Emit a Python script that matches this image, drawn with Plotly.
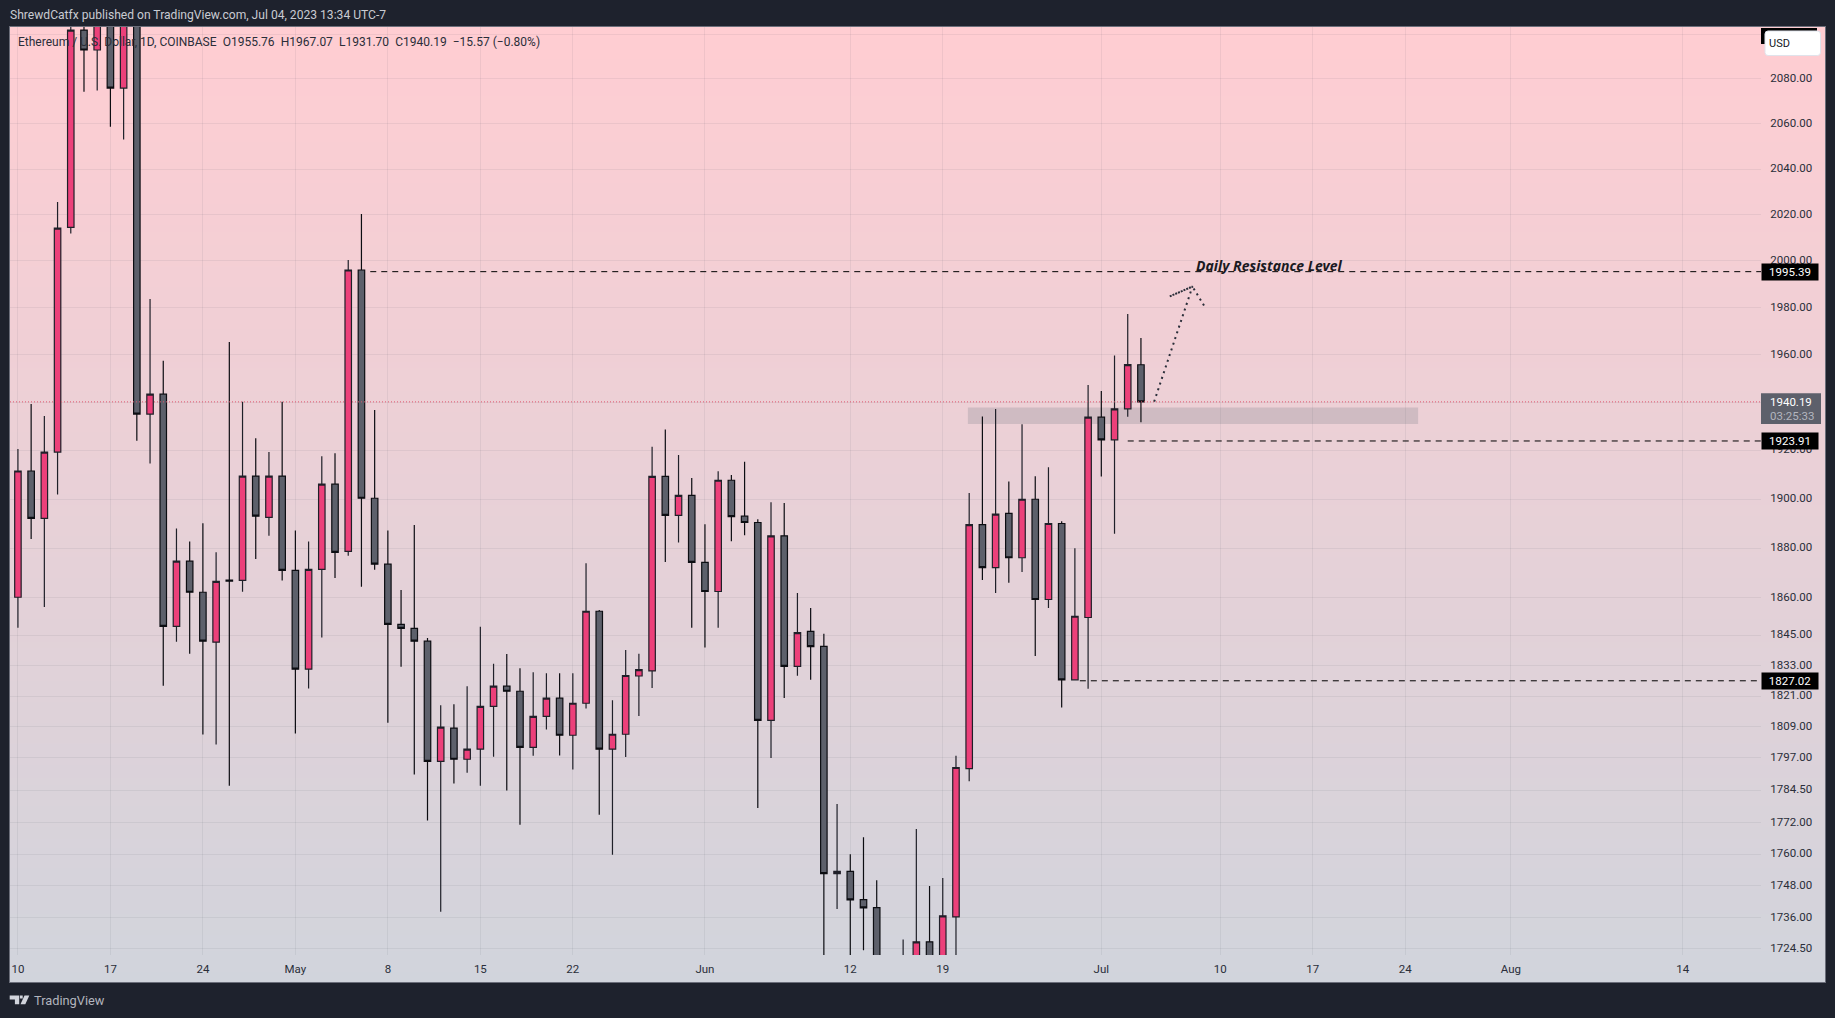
import math
import pandas as pd
import plotly.graph_objects as go

# ---------- data ----------
first_day = "2023-04-10"
opens = [
    1860.2, 1911.5, 1892.1, 1919.3, 2014.5, 2102.0, 2093.0, 2118.0, 2075.9, 2120.0,
    1935.1, 1943.4, 1848.6, 1874.7, 1862.2, 1842.3, 1867.1, 1867.0, 1909.4, 1892.5,
    1909.4,
    1871.0, 1831.6, 1871.4, 1906.1, 1878.7, 1996.1, 1900.3, 1873.5, 1849.4, 1847.8,
    1842.7, 1795.6, 1808.5, 1796.4, 1800.3, 1817.0, 1824.9, 1822.9, 1801.0, 1813.1,
    1820.2, 1805.7, 1818.2, 1854.6, 1800.3, 1806.1, 1828.9, 1830.9, 1909.3, 1893.3,
    1901.5,
    1874.2, 1862.5, 1907.7, 1893.0, 1890.4, 1811.5, 1885.0, 1832.7, 1846.6, 1840.6,
    1752.7, 1753.5, 1742.9, 1739.9, 1660.0, 1665.0, 1715.0, 1727.1, 1718.0, 1736.4,
    1792.8, 1889.5, 1872.1, 1894.1, 1876.1, 1899.9, 1859.3, 1890.0, 1827.4, 1852.1,
    1933.8, 1924.4, 1937.3, 1955.76,
]
highs = [
    1920.6, 1939.3, 1934.3, 2025.6, 2128.0, 2125.0, 2135.0, 2130.0, 2140.0, 2130.0,
    1983.7, 1957.4, 1888.0, 1882.7, 1890.1, 1878.3, 1965.4, 1940.2, 1925.0, 1919.3,
    1940.2,
    1887.2, 1882.7, 1917.6, 1918.8, 2000.4, 2020.3, 1936.8, 1887.2, 1863.1, 1889.4,
    1843.9, 1817.4, 1817.8, 1824.9, 1848.4, 1833.7, 1837.6, 1832.0, 1830.4, 1830.0,
    1830.0, 1830.0, 1873.9, 1855.1, 1819.4, 1839.2, 1837.7, 1921.5, 1928.7, 1918.1,
    1908.6,
    1889.7, 1911.4, 1909.9, 1915.3, 1891.7, 1898.7, 1898.4, 1861.9, 1855.9, 1845.6,
    1779.2, 1760.0, 1766.5, 1750.2, 1690.0, 1728.0, 1769.6, 1748.0, 1751.0, 1797.7,
    1902.5, 1934.1, 1937.2, 1907.2, 1930.9, 1909.3, 1913.0, 1890.9, 1879.9, 1947.3,
    1944.7, 1959.7, 1977.3, 1967.07,
]
lows = [
    1848.0, 1883.7, 1856.3, 1901.8, 2011.9, 2074.3, 2074.8, 2058.7, 2053.0, 1924.0,
    1914.6, 1825.1, 1842.5, 1837.7, 1806.0, 1802.1, 1786.2, 1862.4, 1875.6, 1885.0,
    1866.9,
    1806.4, 1824.0, 1844.1, 1867.9, 1876.9, 1864.4, 1871.3, 1810.6, 1832.6, 1790.5,
    1772.8, 1738.3, 1787.0, 1791.2, 1786.2, 1797.4, 1784.3, 1771.2, 1797.7, 1807.9,
    1797.8, 1792.4, 1816.1, 1775.0, 1759.8, 1797.3, 1813.2, 1824.2, 1874.4, 1882.3,
    1848.0,
    1840.2, 1848.0, 1882.8, 1885.2, 1777.6, 1796.9, 1820.3, 1829.0, 1827.4, 1710.0,
    1739.4, 1715.0, 1724.0, 1625.0, 1625.0, 1650.0, 1705.0, 1710.0, 1700.0, 1700.0,
    1787.9, 1867.1, 1861.9, 1866.0, 1870.4, 1836.8, 1855.9, 1816.5, 1827.1, 1823.9,
    1909.2, 1885.8, 1934.0, 1931.70,
]
closes = [
    1911.5, 1892.1, 1919.3, 2014.2, 2102.0, 2093.0, 2118.0, 2075.9, 2120.0, 1935.1,
    1943.4, 1848.6, 1874.7, 1862.2, 1842.7, 1866.6, 1866.7, 1909.4, 1893.0, 1909.4,
    1871.0,
    1831.6, 1871.4, 1906.1, 1878.3, 1996.1, 1900.3, 1873.5, 1849.4, 1847.8, 1842.7,
    1795.6, 1808.9, 1796.4, 1800.3, 1817.0, 1824.9, 1822.9, 1801.0, 1813.1, 1820.2,
    1805.7, 1818.2, 1854.6, 1800.3, 1806.1, 1829.1, 1831.4, 1909.3, 1893.3, 1901.5,
    1874.2,
    1862.5, 1907.7, 1892.8, 1890.4, 1811.5, 1885.0, 1832.7, 1846.1, 1840.5, 1752.7,
    1753.5, 1742.8, 1739.8, 1660.0, 1665.0, 1715.0, 1727.1, 1718.0, 1736.8, 1793.2,
    1889.5, 1872.1, 1893.8, 1876.1, 1899.9, 1859.3, 1890.0, 1827.4, 1852.6, 1933.8,
    1924.4, 1937.3, 1955.8, 1940.19,
]
days = pd.date_range(first_day, periods=len(opens))

price_ticks = [2100, 2080, 2060, 2040, 2020, 2000, 1980, 1960, 1940, 1920, 1900, 1880, 1860,
               1845, 1833, 1821, 1809, 1797, 1784.5, 1772, 1760, 1748, 1736, 1724.5]
date_ticks = ["2023-04-10", "2023-04-17", "2023-04-24", "2023-05-01", "2023-05-08", "2023-05-15",
              "2023-05-22", "2023-06-01", "2023-06-12", "2023-06-19", "2023-07-01", "2023-07-10",
              "2023-07-17", "2023-07-24", "2023-08-01", "2023-08-14"]
date_labels = ["10", "17", "24", "May", "8", "15", "22", "Jun", "12", "19", "Jul", "10", "17", "24", "Aug", "14"]

last_price = 1940.19
levels = [1995.39, 1923.91, 1827.02]
level_starts = ["2023-05-06 16:00", "2023-07-03 00:00", "2023-06-29 09:00"]
zone_low, zone_high = 1931.0, 1937.8
zone_start, zone_end = "2023-06-20 21:36", "2023-07-24 23:30"
arrow_days = ["2023-07-05 00:00", "2023-07-07 21:36", "2023-07-06 03:30", "2023-07-07 21:36", "2023-07-08 21:36"]
arrow_prices = [1940.3, 1989.0, 1984.7, 1989.0, 1979.7]
note_day, note_price = "2023-07-07 23:30", 1998.0
x_start, x_end = "2023-04-09 09:36", "2023-08-19 22:20"
y_low, y_high = 1722.2, 2103.4

# ---------- style ----------
BG = "#1e222d"
PINK = "#ec407a"
GREY = "#5d606b"
INK = "#131722"
GRID = "rgba(60,62,80,0.075)"
FONT = "Roboto"
RAMP_ROWS = 128

W, H = 1835, 1018
L, R, T, B = 10.3, 1825, 27, 982
INNER_R, INNER_B = 1761, 955


def px(x):
    return (x - L) / (R - L)


def py(y):
    return 1 - (y - T) / (B - T)


def rounded_box(x0, y0, x1, y1, r):
    pts = [("M", x0 + r, y0), ("L", x1 - r, y0), ("Q", x1, y0, x1, y0 + r), ("L", x1, y1 - r),
           ("Q", x1, y1, x1 - r, y1), ("L", x0 + r, y1), ("Q", x0, y1, x0, y1 - r), ("L", x0, y0 + r),
           ("Q", x0, y0, x0 + r, y0)]
    out = []
    for p in pts:
        coords = p[1:]
        pairs = [f"{px(coords[i]):.5f} {py(coords[i + 1]):.5f}" for i in range(0, len(coords), 2)]
        out.append(p[0] + " " + " ".join(pairs))
    return " ".join(out) + " Z"


fig = go.Figure()

# full panel background ramp (pink at top to blue-grey at bottom)
ramp = [i / (RAMP_ROWS - 1) for i in range(RAMP_ROWS)]
fig.add_trace(go.Heatmap(
    x=[0, 1], y=ramp, z=[[v, v] for v in ramp], zsmooth="best", showscale=False, hoverinfo="skip",
    colorscale=[[0, "#d1d4dc"], [1, "#ffcdd2"]], xaxis="x", yaxis="y"))

fig.add_trace(go.Candlestick(
    x=days, open=opens, high=highs, low=lows, close=closes, xaxis="x2", yaxis="y2",
    whiskerwidth=0,
    increasing=dict(fillcolor=PINK, line=dict(color="#1f2029", width=1.2)),
    decreasing=dict(fillcolor=GREY, line=dict(color="#0c0d12", width=1.2)),
    showlegend=False))

# last price dotted line
fig.add_trace(go.Scatter(
    x=[x_start, x_end], y=[last_price, last_price], mode="lines", xaxis="x2", yaxis="y2",
    line=dict(color="#e0566f", width=1, dash="1px,2px"), showlegend=False, hoverinfo="skip"))

# horizontal dashed levels
for lv, st in zip(levels, level_starts):
    fig.add_trace(go.Scatter(
        x=[st, x_end], y=[lv, lv], mode="lines", xaxis="x2", yaxis="y2",
        line=dict(color="#000000", width=1, dash="6px,5px"), showlegend=False, hoverinfo="skip"))

# dotted arrow
fig.add_trace(go.Scatter(
    x=arrow_days, y=arrow_prices, mode="lines", xaxis="x2", yaxis="y2",
    line=dict(color="#2a2e39", width=2, dash="2px,4px"), showlegend=False, hoverinfo="skip"))

shapes = [
    dict(type="rect", xref="x2", yref="y2", x0=zone_start, x1=zone_end, y0=zone_low, y1=zone_high,
         fillcolor="rgba(120,123,134,0.25)", line=dict(width=0), layer="below"),
    # USD button with the level box behind it
    dict(type="rect", xref="paper", yref="paper", x0=px(1761), x1=px(1817), y0=py(28), y1=py(44),
         fillcolor="#000000", line=dict(width=0)),
    dict(type="path", xref="paper", yref="paper", path=rounded_box(1765, 31, 1820.5, 55.5, 3),
         fillcolor="#ffffff", line=dict(color="#e0e3eb", width=1)),
    # last price box
    dict(type="rect", xref="paper", yref="paper", x0=px(1761), x1=px(1821), y0=py(393.3), y1=py(424),
         fillcolor=GREY, line=dict(width=0)),
]

# TradingView mark
logo_paths = [
    [(10, 995.5), (19.5, 995.5), (19.5, 1004.3), (15.2, 1004.3), (15.2, 999.6), (10, 999.6)],
    [(24.8, 995.5), (29.6, 995.5), (25.6, 1004.3), (20.8, 1004.3)],
    [(20.2, 995.5), (23, 995.5), (23, 998.5), (20.2, 998.5)],
]
for pts in logo_paths:
    d = "M " + " L ".join(f"{px(a):.5f} {py(b):.5f}" for a, b in pts) + " Z"
    shapes.append(dict(type="path", xref="paper", yref="paper", path=d,
                       fillcolor="#d1d4dc", line=dict(width=0)))


def note(text, x, y, size=12, color=INK, anchor="left", **kw):
    return dict(text=text, x=px(x), y=py(y), xref="paper", yref="paper", xanchor=anchor, yanchor="middle",
                showarrow=False, font=dict(family=FONT, size=size, color=color), borderpad=0, **kw)


annotations = [
    note("ShrewdCatfx published on TradingView.com, Jul 04, 2023 13:34 UTC-7", 9.6, 15, 12.1, "#c9cbd2"),
    note("Ethereum / U.S. Dollar, 1D, COINBASE\u2002O1955.76\u2002H1967.07\u2002L1931.70\u2002C1940.19"
         "\u2002\u221215.57 (\u22120.80%)", 17.5, 41.5, 12, "#2a2e39"),
    note("TradingView", 33, 1000, 12.8, "#b2b5be"),
    note("USD", 1768, 43, 11, "#131722"),
    note(f"{last_price:.2f}", 1769, 402, 11.5, "#ffffff"),
    note("03:25:33", 1769, 416, 11.5, "#b2b5be"),
    dict(text="<b><i>Daily Resistance Level</i></b>", x=note_day, xref="x2", y=math.log10(note_price), yref="y2",
         xanchor="left", yanchor="middle", showarrow=False,
         font=dict(family="Noto Sans", size=14, color="#1a1a22")),
]
for lv in levels:
    annotations.append(dict(
        text=f"{lv:.2f}", x=px(1761), xref="paper", y=math.log10(lv), yref="y2", xanchor="left", yanchor="middle",
        width=56, height=16, align="center", bgcolor="#000000", borderpad=0, showarrow=False,
        font=dict(family=FONT, size=11.5, color="#ffffff")))

fig.update_layout(
    width=W, height=H, autosize=False,
    margin=dict(l=L, r=W - R, t=T, b=H - B, pad=0),
    paper_bgcolor=BG, plot_bgcolor="rgba(0,0,0,0)",
    showlegend=False, boxgap=0.3, hovermode=False,
    xaxis=dict(domain=[0, 1], range=[0, 1], anchor="y", showgrid=False, zeroline=False, showticklabels=False,
               ticks="", showline=True, linecolor="#6b6e7a", linewidth=1, mirror=True, fixedrange=True),
    yaxis=dict(domain=[0, 1], range=[0, 1], anchor="x", showgrid=False, zeroline=False, showticklabels=False,
               ticks="", showline=True, linecolor="#6b6e7a", linewidth=1, mirror=True, fixedrange=True),
    xaxis2=dict(domain=[0, px(INNER_R)], anchor="y2", type="date", range=[x_start, x_end],
                rangeslider=dict(visible=False), tickmode="array", tickvals=date_ticks, ticktext=date_labels,
                showgrid=True, gridcolor=GRID, gridwidth=1, zeroline=False, showline=False,
                ticks="outside", ticklen=3, tickcolor="rgba(0,0,0,0)",
                tickfont=dict(family=FONT, size=11.5, color="#2a2e39"), tickangle=0),
    yaxis2=dict(domain=[py(INNER_B), 1], anchor="x2", side="right", type="log",
                range=[math.log10(y_low), math.log10(y_high)],
                tickmode="array", tickvals=price_ticks, ticktext=[f"{p:.2f}" for p in price_ticks],
                showgrid=True, gridcolor=GRID, gridwidth=1, zeroline=False, showline=False,
                ticks="outside", ticklen=6, tickcolor="rgba(0,0,0,0)", ticklabelshift=-1,
                tickfont=dict(family=FONT, size=11.5, color="#2a2e39")),
    shapes=shapes, annotations=annotations,
)

fig.write_html("out.html", config=dict(displayModeBar=False),
               post_script="document.body.style.margin='0';document.body.style.background='#1e222d';"
                           "document.documentElement.style.overflow='hidden';")
